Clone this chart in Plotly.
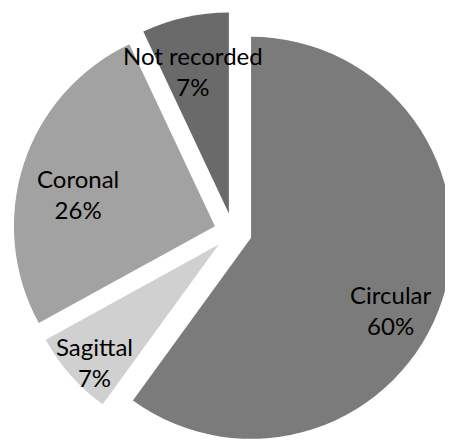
import math
import plotly.graph_objects as go

# ---- data ----
labels = ["Circular", "Sagittal", "Coronal", "Not recorded"]
values = [60, 7, 26, 7]

# ---- style ----
colors = ["#7b7b7b", "#d0d0d0", "#a2a2a2", "#6a6a6a"]
PAGE_OFFSET = 8            # default body margin of the html page
W, H = 453 - PAGE_OFFSET, 442 - PAGE_OFFSET
CX, CY = 233 - PAGE_OFFSET, 232 - PAGE_OFFSET   # pie centre (figure pixels)
R = 201                    # pie radius in pixels
EXPLODE = 19               # explosion offset in pixels
FONT = "Lato"
FONT_SIZE = 24
# label placement relative to each slice: radius fraction and angle offset (deg)
label_rfrac = [0.78, 0.85, 0.70, 0.73]
label_dang = [9.5, -2.0, -5.0, -1.5]

total = sum(values)
pcts = [round(v / total * 100) for v in values]

fig = go.Figure()
annotations = []
cum = 0.0
for i, (lab, v) in enumerate(zip(labels, values)):
    mid = (cum + v / 2) / total * 2 * math.pi
    cum += v
    cx = CX + EXPLODE * math.sin(mid)
    cy = CY - EXPLODE * math.cos(mid)
    r = min(R, cx, W - cx, cy, H - cy)
    dom_x = [(cx - r) / W, (cx + r) / W]
    dom_y = [(H - (cy + r)) / H, (H - (cy - r)) / H]
    cols = [colors[j] if j == i else "rgba(0,0,0,0)" for j in range(len(values))]
    fig.add_trace(go.Pie(
        labels=labels, values=values, sort=False, direction="clockwise", rotation=0,
        domain=dict(x=dom_x, y=dom_y),
        marker=dict(colors=cols, line=dict(width=0)),
        textinfo="none",
        hoverinfo="label+percent", showlegend=False,
    ))
    a = mid + math.radians(label_dang[i])
    lx = cx + label_rfrac[i] * R * math.sin(a)
    ly = cy - label_rfrac[i] * R * math.cos(a)
    annotations.append(dict(
        x=lx / W, y=1 - ly / H, xref="paper", yref="paper",
        text=f"{lab}<br>{pcts[i]}%", showarrow=False,
        xanchor="center", yanchor="middle",
        font=dict(family=FONT, size=FONT_SIZE, color="#000000"),
    ))

fig.update_layout(
    width=W, height=H, margin=dict(l=0, r=0, t=0, b=0),
    paper_bgcolor="white", plot_bgcolor="white",
    annotations=annotations,
    showlegend=False,
)
fig.write_html("out.html")
